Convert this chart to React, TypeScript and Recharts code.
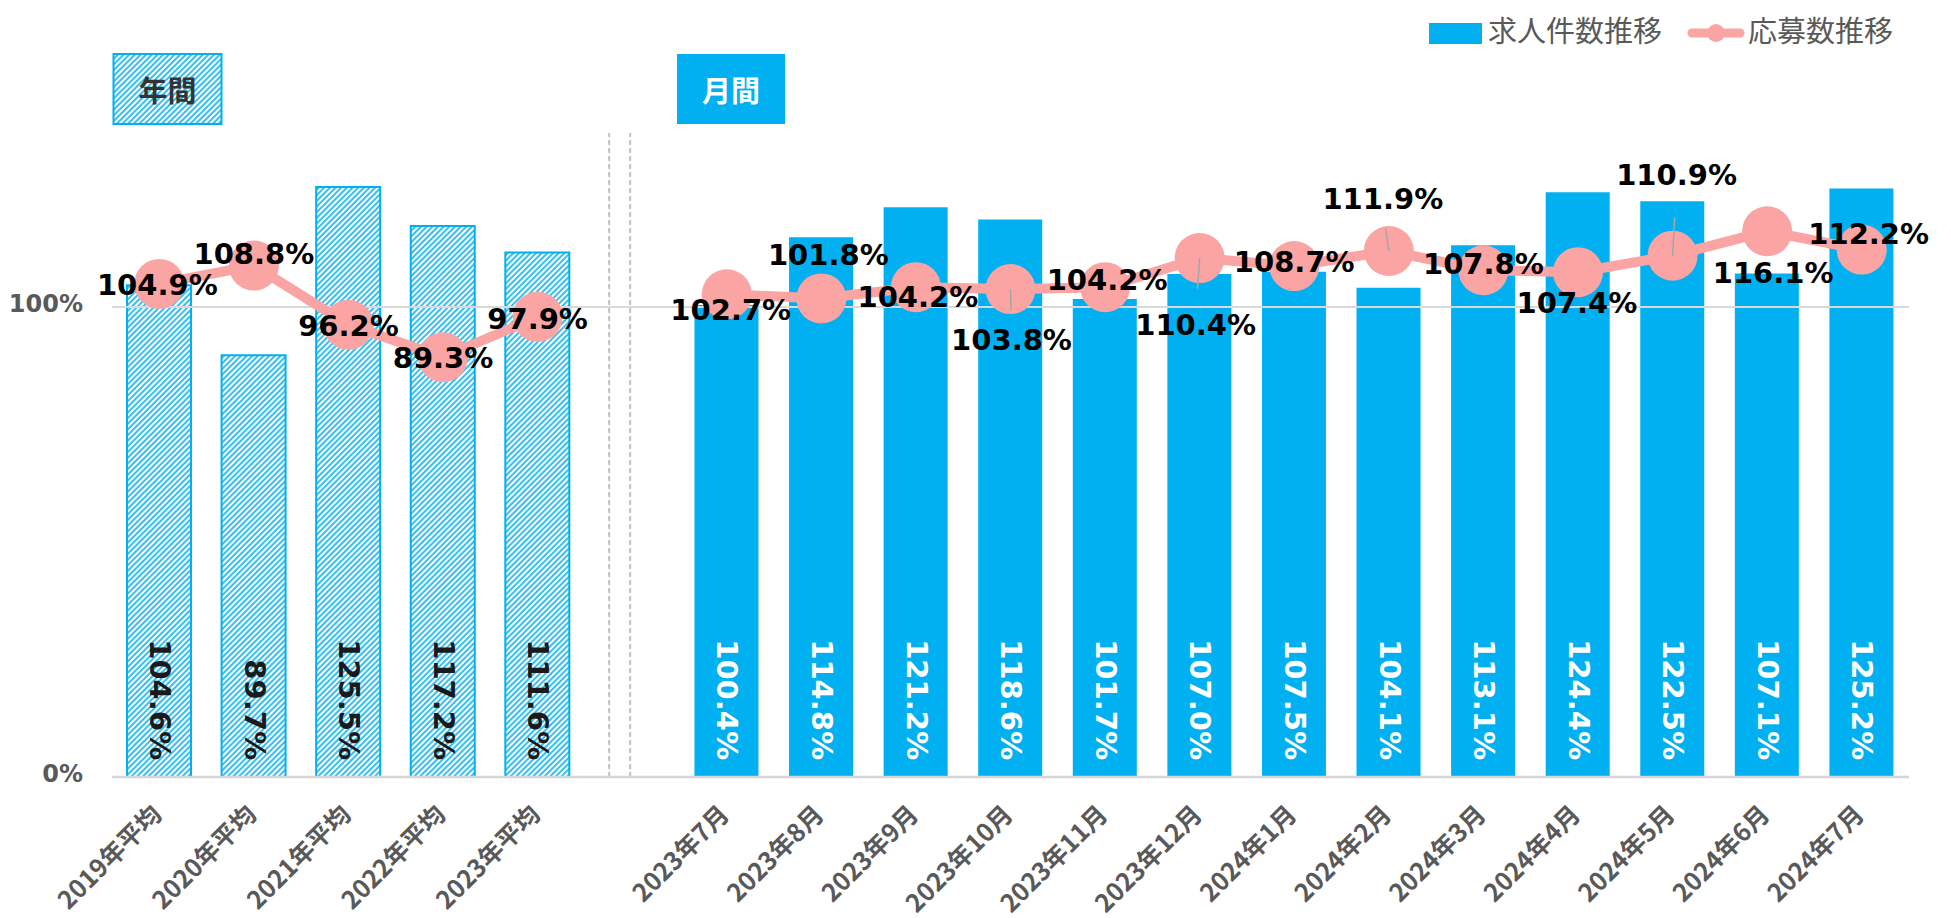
import React from 'react';
import {
  ComposedChart,
  Bar,
  Line,
  XAxis,
  YAxis,
  ReferenceLine,
  LabelList,
  Legend,
  Cell,
} from 'recharts';

// ---------- data ----------
const categories = [
  '2019年平均', '2020年平均', '2021年平均', '2022年平均', '2023年平均',
  ' ',
  '2023年7月', '2023年8月', '2023年9月', '2023年10月', '2023年11月', '2023年12月',
  '2024年1月', '2024年2月', '2024年3月', '2024年4月', '2024年5月', '2024年6月', '2024年7月',
];
const periodType = [
  'year', 'year', 'year', 'year', 'year',
  'gap',
  'month', 'month', 'month', 'month', 'month', 'month', 'month',
  'month', 'month', 'month', 'month', 'month', 'month',
];
const jobPostings = [
  104.6, 89.7, 125.5, 117.2, 111.6,
  null,
  100.4, 114.8, 121.2, 118.6, 101.7, 107.0, 107.5, 104.1, 113.1, 124.4, 122.5, 107.1, 125.2,
];
const applications = [
  104.9, 108.8, 96.2, 89.3, 97.9,
  null,
  102.7, 101.8, 104.2, 103.8, 104.2, 110.4, 108.7, 111.9, 107.8, 107.4, 110.9, 116.1, 112.2,
];
const yTicks = [0, 100];
const seriesNames = ['求人件数推移', '応募数推移'];
const groupTitles = ['年間', '月間'];

// label placement (px offsets from each point), layout only
const lineLabelOffsets: [number, number][] = [
  [-2, 1], [0, -12], [0, 1], [0, 1], [0, 2],
  [0, 0],
  [4, 16], [7, -43], [2, 10], [1, 51], [2, -7], [-4, 67], [0, -4],
  [-6, -52], [0, -6], [-1, 31], [4, -81], [6, 42], [7, -16],
];

const data = categories.map((c, i) => ({
  category: c,
  jobs: jobPostings[i],
  apps: applications[i],
  period: periodType[i],
}));

// ---------- styles ----------
const BLUE = '#00B0F0';
const PINK = '#FAA5A3';
const GRAY = '#595959';
const NUM_FONT = '"DejaVu Sans", Verdana, sans-serif';
const JP_FONT = '"Noto Sans CJK JP", "Noto Sans", sans-serif';

const XTick = (props: any) => {
  const { x, y, payload } = props;
  const t = String(payload.value).trim();
  if (!t) return null;
  const ax = x + 4;
  const ay = y + 39;
  return (
    <text
      x={ax}
      y={ay}
      transform={`rotate(-45, ${ax}, ${ay})`}
      textAnchor="end"
      fill={GRAY}
      style={{ fontFamily: JP_FONT, fontWeight: 700, fontSize: 25 }}
    >
      {t}
    </text>
  );
};

const YTick = (props: any) => {
  const { x, y, payload } = props;
  return (
    <text
      x={x - 29}
      y={y - 3}
      textAnchor="end"
      dominantBaseline="central"
      fill={GRAY}
      style={{ fontFamily: NUM_FONT, fontWeight: 700, fontSize: 24 }}
    >
      {payload.value}%
    </text>
  );
};

const BarValueLabel = (props: any) => {
  const vb = props.viewBox || {};
  const x = props.x ?? vb.x;
  const y = props.y ?? vb.y;
  const width = props.width ?? vb.width;
  const height = props.height ?? vb.height;
  const { value, index } = props;
  if (value == null) return null;
  const isYear = periodType[index] === 'year';
  const cx = x + width / 2 + 1;
  const ey = y + height - 17;
  return (
    <text
      x={cx}
      y={ey}
      transform={`rotate(90, ${cx}, ${ey})`}
      textAnchor="end"
      dominantBaseline="central"
      fill={isYear ? '#1a1a1a' : '#ffffff'}
      style={{ fontFamily: NUM_FONT, fontWeight: 700, fontSize: 29 }}
    >
      {Number(value).toFixed(1)}%
    </text>
  );
};

const LineValueLabel = (props: any) => {
  const vb = props.viewBox || {};
  const x = props.x ?? vb.x;
  const y = props.y ?? vb.y;
  const { value, index } = props;
  if (value == null) return null;
  const [dx, dy] = lineLabelOffsets[index] || [0, 0];
  const leader = Math.abs(dy) > 45;
  const edge = dy - Math.sign(dy) * 11;
  return (
    <g>
      {leader && (
        <line
          x1={x}
          y1={y}
          x2={x + dx * 0.55}
          y2={y + edge * 0.55}
          stroke="#a6a6a6"
          strokeWidth={1.5}
        />
      )}
      <text
        x={x + dx}
        y={y + dy}
        textAnchor="middle"
        dominantBaseline="central"
        fill="#000000"
        style={{ fontFamily: NUM_FONT, fontWeight: 700, fontSize: 29 }}
      >
        {Number(value).toFixed(1)}%
      </text>
    </g>
  );
};

const DividerShape = (props: any) => {
  const { x1, y1, y2 } = props;
  const common = { stroke: '#c0c0c0', strokeWidth: 2, strokeDasharray: '5 3' };
  return (
    <g>
      <line x1={x1 - 23} x2={x1 - 23} y1={y1} y2={y2} {...common} />
      <line x1={x1 - 2} x2={x1 - 2} y1={y1} y2={y2} {...common} />
    </g>
  );
};

const LegendBox = () => (
  <div
    style={{
      display: 'flex',
      alignItems: 'center',
      height: 46,
      fontFamily: JP_FONT,
      fontSize: 29,
      color: GRAY,
      whiteSpace: 'nowrap',
    }}
  >
    <div style={{ width: 53, height: 21, background: BLUE, marginLeft: 9, marginRight: 6 }} />
    <span style={{ position: 'relative', top: -4 }}>{seriesNames[0]}</span>
    <svg width={58} height={22} style={{ marginLeft: 25, marginRight: 3 }}>
      <line x1={5} y1={11} x2={53} y2={11} stroke={PINK} strokeWidth={9} strokeLinecap="round" />
      <circle cx={29} cy={11} r={9} fill={PINK} />
    </svg>
    <span style={{ position: 'relative', top: -4 }}>{seriesNames[1]}</span>
  </div>
);

export default function App() {
  return (
    <div style={{ position: 'absolute', left: 0, top: 0, width: 1951, height: 918, background: '#fff' }}>
      <svg width={0} height={0} style={{ position: 'absolute' }}>
        <defs>
          <pattern id="hatch" patternUnits="userSpaceOnUse" width={4} height={4} patternTransform="rotate(45)">
            <rect width={4} height={4} fill="#ffffff" />
            <line x1={2} y1={0} x2={2} y2={4} stroke={BLUE} strokeWidth={1.6} />
          </pattern>
        </defs>
      </svg>
      <ComposedChart
        width={1951}
        height={918}
        data={data}
        margin={{ top: 133, right: 42, bottom: 0, left: 0 }}
      >
        <XAxis
          dataKey="category"
          interval={0}
          height={141}
          tickLine={false}
          tickSize={0}
          tickMargin={0}
          axisLine={{ stroke: '#d4d4d4', strokeWidth: 2.5 }}
          tick={<XTick />}
        />
        <YAxis
          domain={[0, 137]}
          ticks={yTicks}
          width={112}
          axisLine={false}
          tickLine={false}
          tickSize={0}
          tickMargin={0}
          tick={<YTick />}
        />
        <ReferenceLine y={yTicks[1]} stroke="#d9d9d9" strokeWidth={2} />
        <ReferenceLine x=" " stroke="#c0c0c0" shape={<DividerShape />} ifOverflow="visible" />
        <Bar dataKey="jobs" name={seriesNames[0]} barSize={64} isAnimationActive={false}>
          {data.map((d, i) => (
            <Cell
              key={i}
              fill={d.period === 'year' ? 'url(#hatch)' : BLUE}
              stroke={d.period === 'year' ? BLUE : 'none'}
              strokeWidth={2}
            />
          ))}
          <LabelList dataKey="jobs" content={<BarValueLabel />} />
        </Bar>
        <Line
          dataKey="apps"
          name={seriesNames[1]}
          stroke={PINK}
          strokeWidth={10}
          dot={{ r: 25, fill: PINK, stroke: 'none', strokeWidth: 0 }}
          activeDot={false}
          isAnimationActive={false}
        >
          <LabelList dataKey="apps" content={<LineValueLabel />} />
        </Line>
        <Legend
          layout="vertical"
          align="center"
          verticalAlign="middle"
          wrapperStyle={{ left: 1420, top: 10, width: 520, height: 46 }}
          content={() => <LegendBox />}
        />
      </ComposedChart>
      <svg
        width={1951}
        height={918}
        style={{ position: 'absolute', left: 0, top: 0, pointerEvents: 'none' }}
      >
        <rect x={113.5} y={54} width={108} height={70} fill="url(#hatch)" stroke={BLUE} strokeWidth={2} />
        <text
          x={167.5}
          y={89}
          textAnchor="middle"
          dominantBaseline="central"
          fill="#333333"
          style={{ fontFamily: JP_FONT, fontWeight: 700, fontSize: 29 }}
        >
          {groupTitles[0]}
        </text>
        <rect x={677} y={54} width={108} height={70} fill={BLUE} />
        <text
          x={731}
          y={89}
          textAnchor="middle"
          dominantBaseline="central"
          fill="#ffffff"
          style={{ fontFamily: JP_FONT, fontWeight: 700, fontSize: 29 }}
        >
          {groupTitles[1]}
        </text>
      </svg>
    </div>
  );
}
